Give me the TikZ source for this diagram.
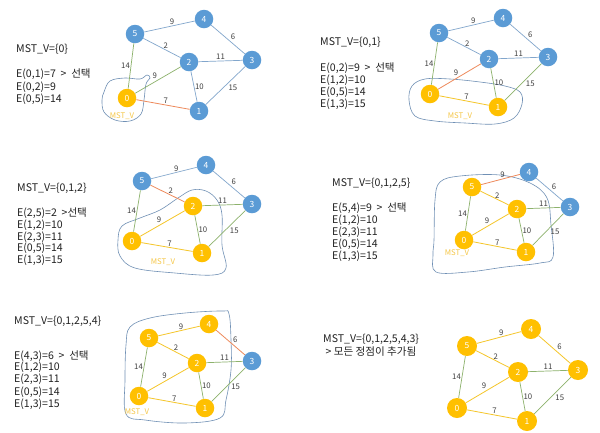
\documentclass[tikz,border=0pt]{standalone}
\usepackage{fontspec}
\setmainfont{Noto Sans CJK KR}
\definecolor{nblue}{HTML}{5B9BD5}
\definecolor{nyel}{HTML}{FFC000}
\definecolor{eblue}{HTML}{82A6CC}
\definecolor{egreen}{HTML}{8DB26C}
\definecolor{eorange}{HTML}{EE8A5C}
\definecolor{eyel}{HTML}{F5C62A}
\definecolor{blobc}{HTML}{7090B5}
\definecolor{mstc}{HTML}{F5C645}
\definecolor{txt}{HTML}{222222}
\definecolor{labc}{HTML}{404040}
\tikzset{
  vb/.style={circle,fill=nblue,text=white,minimum size=18.5bp,inner sep=0pt,font=\fontsize{8.5}{8.5}\selectfont},
  vy/.style={vb,fill=nyel},
  eb/.style={draw=eblue,line width=0.7bp},
  eg/.style={draw=egreen,line width=0.7bp},
  eo/.style={draw=eorange,line width=0.8bp},
  ey/.style={draw=eyel,line width=0.8bp},
  lab/.style={text=labc,inner sep=0.8bp,font=\fontsize{7.8}{8}\selectfont},
  blob/.style={draw=blobc,line width=0.6bp},
  msttxt/.style={text=mstc,inner sep=0pt,font=\fontsize{7.8}{8}\selectfont},
  info/.style={anchor=base west,text=txt,inner sep=0pt,font=\fontsize{10.6}{12}\selectfont},
}
\newcommand\drawgraph[1]{%
  \draw[e54] (#1-5) -- node[lab,above,pos=0.55] {9} (#1-4);
  \draw[e43] (#1-4) -- node[lab,above right,pos=0.55] {6} (#1-3);
  \draw[e52] (#1-5) -- node[lab,above,pos=0.6] {2} (#1-2);
  \draw[e23] (#1-2) -- node[lab,above] {11} (#1-3);
  \draw[e05] (#1-0) -- node[lab,left] {14} (#1-5);
  \draw[e02] (#1-0) -- node[lab,above left] {9} (#1-2);
  \draw[e12] (#1-2) -- node[lab,right] {10} (#1-1);
  \draw[e13] (#1-1) -- node[lab,below right,pos=0.55] {15} (#1-3);
  \draw[e01] (#1-0) -- node[lab,above,pos=0.55] {7} (#1-1);
}
\begin{document}
\begin{tikzpicture}[x=1bp,y=-1bp]
\useasboundingbox[fill=white] (0,0) rectangle (600,432);

% ---------- Panel 1 ----------
\begin{scope}[e54/.style=eb,e43/.style=eb,e52/.style=eb,e23/.style=eb,e05/.style=eg,e02/.style=eg,e12/.style=eb,e13/.style=eb,e01/.style=eo]
\draw[blob] plot[smooth cycle,tension=0.6] coordinates {(104,92) (110,81) (125,78) (140,79) (147,75) (150,78) (146,84) (144,100) (141,114) (130,121) (115,120) (104,112) (102,100)};
\node[vb] (p1-5) at (135,34) {5};
\node[vb] (p1-4) at (204,19) {4};
\node[vb] (p1-2) at (189,62) {2};
\node[vb] (p1-3) at (252,60) {3};
\node[vy] (p1-0) at (127,98) {0};
\node[vb] (p1-1) at (199,111) {1};
\drawgraph{p1}
\node[msttxt] (m1) at (122,116) {MST\_V};
\node[info] (t1a) at (16,52.5) {MST\_V=\{0\}};
\node[info] (t1b) at (16,77.5) {E(0,1)=7 \ > \ 선택};
\node[info] (t1c) at (16,90) {E(0,2)=9};
\node[info] (t1d) at (16,102.5) {E(0,5)=14};
\end{scope}

% ---------- Panel 2 ----------
\begin{scope}[e54/.style=eb,e43/.style=eb,e52/.style=eb,e23/.style=eb,e05/.style=eg,e02/.style=eo,e12/.style=eg,e13/.style=eg,e01/.style=ey]
\draw[blob] plot[smooth cycle,tension=0.6] coordinates {(409,100) (412,86) (425,79) (450,79) (480,82) (505,86) (520,92) (522,104) (514,118) (495,124) (465,123) (435,121) (415,116)};
\node[vb] (p2-5) at (439,33) {5};
\node[vb] (p2-4) at (503,18) {4};
\node[vb] (p2-2) at (489,59) {2};
\node[vb] (p2-3) at (548,57) {3};
\node[vy] (p2-0) at (430,94) {0};
\node[vy] (p2-1) at (498,107) {1};
\drawgraph{p2}
\node[msttxt] (m2) at (460,116) {MST\_V};
\node[info] (t2a) at (320,45.5) {MST\_V=\{0,1\}};
\node[info] (t2b) at (320,71.5) {E(0,2)=9 \ > \ 선택};
\node[info] (t2c) at (320,83.5) {E(1,2)=10};
\node[info] (t2d) at (320,95) {E(0,5)=14};
\node[info] (t2e) at (320,107) {E(1,3)=15};
\end{scope}

% ---------- Panel 3 ----------
\begin{scope}[e54/.style=eb,e43/.style=eb,e52/.style=eo,e23/.style=eg,e05/.style=eg,e02/.style=ey,e12/.style=eg,e13/.style=eg,e01/.style=ey]
\draw[blob] plot[smooth cycle,tension=0.6] coordinates {(118,240) (122,226) (140,218) (160,210) (178,198) (192,190) (206,191) (217,200) (222,215) (222,245) (226,268) (213,275) (175,273) (135,268) (120,256)};
\node[vb] (p3-5) at (142,181) {5};
\node[vb] (p3-4) at (206,165) {4};
\node[vy] (p3-2) at (193,206) {2};
\node[vb] (p3-3) at (252,204) {3};
\node[vy] (p3-0) at (132,241) {0};
\node[vy] (p3-1) at (202,253) {1};
\drawgraph{p3}
\node[msttxt] (m3) at (163,262) {MST\_V};
\node[info] (t3a) at (17,191) {MST\_V=\{0,1,2\}};
\node[info] (t3b) at (17,216.5) {E(2,5)=2 \ >선택};
\node[info] (t3c) at (17,228.5) {E(1,2)=10};
\node[info] (t3d) at (17,240) {E(2,3)=11};
\node[info] (t3e) at (17,251.5) {E(0,5)=14};
\node[info] (t3f) at (17,263.5) {E(1,3)=15};
\end{scope}

% ---------- Panel 4 ----------
\begin{scope}[e54/.style=eo,e43/.style=eb,e52/.style=ey,e23/.style=eg,e05/.style=eg,e02/.style=ey,e12/.style=eg,e13/.style=eg,e01/.style=ey]
\draw[blob] plot[smooth cycle,tension=0.6] coordinates {(434,240) (435,200) (440,182) (460,176) (500,175) (530,183) (547,198) (551,225) (553,257) (540,263) (505,267) (468,272) (436,272) (433,255)};
\node[vy] (p4-5) at (472,187) {5};
\node[vb] (p4-4) at (529,172) {4};
\node[vy] (p4-2) at (517,209) {2};
\node[vb] (p4-3) at (570,207) {3};
\node[vy] (p4-0) at (464,240) {0};
\node[vy] (p4-1) at (526,252) {1};
\drawgraph{p4}
\node[msttxt] (m4) at (457,253) {MST\_V};
\node[info] (t4a) at (332,186) {MST\_V=\{0,1,2,5\}};
\node[info] (t4b) at (332,211.5) {E(5,4)=9 \ > \ 선택};
\node[info] (t4c) at (332,223) {E(1,2)=10};
\node[info] (t4d) at (332,235) {E(2,3)=11};
\node[info] (t4e) at (332,247.5) {E(0,5)=14};
\node[info] (t4f) at (332,259.5) {E(1,3)=15};
\end{scope}

% ---------- Panel 5 ----------
\begin{scope}[e54/.style=ey,e43/.style=eo,e52/.style=ey,e23/.style=eg,e05/.style=eg,e02/.style=ey,e12/.style=eg,e13/.style=eg,e01/.style=ey]
\draw[blob] plot[smooth cycle,tension=0.6] coordinates {(125,380) (126,345) (130,327) (150,318) (185,313) (222,311) (229,314) (231,340) (231,370) (226,400) (220,418) (185,423) (145,420) (126,414)};
\node[vy] (p5-5) at (149,338) {5};
\node[vy] (p5-4) at (209,324) {4};
\node[vy] (p5-2) at (197,363) {2};
\node[vb] (p5-3) at (252,361) {3};
\node[vy] (p5-0) at (139,396) {0};
\node[vy] (p5-1) at (205,408) {1};
\drawgraph{p5}
\node[msttxt] (m5) at (137,412) {MST\_V};
\node[info] (t5a) at (14,324.5) {MST\_V=\{0,1,2,5,4\}};
\node[info] (t5b) at (14,359.5) {E(4,3)=6 \ > \ 선택};
\node[info] (t5c) at (14,370.5) {E(1,2)=10};
\node[info] (t5d) at (14,382) {E(2,3)=11};
\node[info] (t5e) at (14,395) {E(0,5)=14};
\node[info] (t5f) at (14,407.5) {E(1,3)=15};
\end{scope}

% ---------- Panel 6 ----------
\begin{scope}[vy/.append style={minimum size=20bp},e54/.style=ey,e43/.style=ey,e52/.style=ey,e23/.style=eg,e05/.style=eg,e02/.style=ey,e12/.style=eg,e13/.style=eg,e01/.style=ey]
\node[vy] (p6-5) at (467,346) {5};
\node[vy] (p6-4) at (531,329) {4};
\node[vy] (p6-2) at (518,372) {2};
\node[vy] (p6-3) at (578,370) {3};
\node[vy] (p6-0) at (457,408) {0};
\node[vy] (p6-1) at (527,421) {1};
\drawgraph{p6}
\node[info] (t6a) at (323,342.5) {MST\_V=\{0,1,2,5,4,3\}};
\node[info] (t6b) at (323,355.5) {\ > 모든 정점이 추가됨};
\end{scope}
\end{tikzpicture}
\end{document}
